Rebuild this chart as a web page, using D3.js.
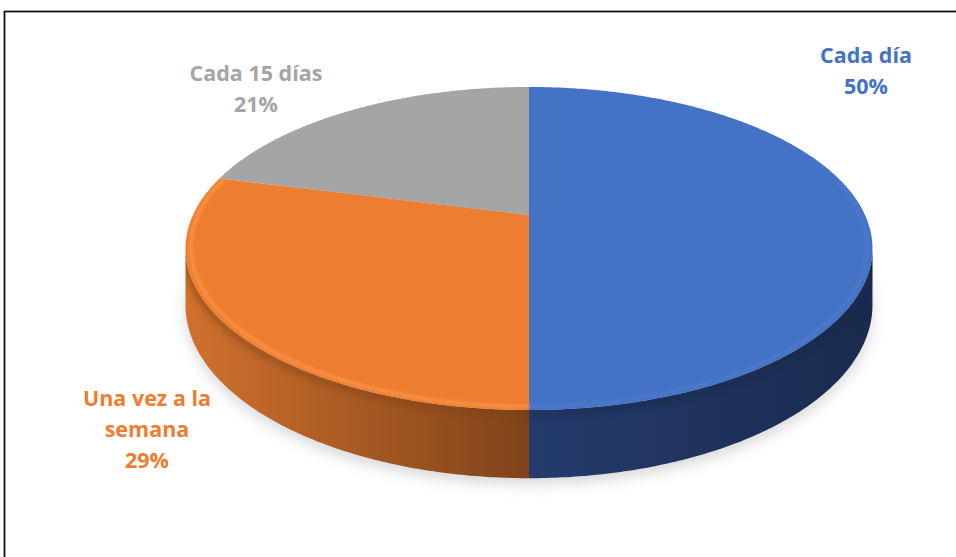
<!DOCTYPE html>
<html><head><meta charset="utf-8">
<script src="https://cdn.jsdelivr.net/npm/d3@7"></script>
<style>html,body{margin:0;padding:0;background:#fff;overflow:hidden}</style>
</head><body><svg id="c" width="956" height="557"></svg>
<script>
// ---- data ----
const categories = ["Cada día", "Una vez a la semana", "Cada 15 días"];
const values = [50, 29, 21];
const labelLines = [["Cada día"], ["Una vez a la", "semana"], ["Cada 15 días"]];

// ---- styles / layout ----
const topColors = ["#4472c4", "#ed7d31", "#a5a5a5"];
const sideLight = ["#243c6e", "#d1702d", "#8c8c8c"];
const sideDark = ["#1a2a4c", "#7f4319", "#6a6a6a"];
const rimLight = ["#4b79cc", "#fa9243", "#bcbcbc"];
const labelColors = ["#4472c4", "#ed7d31", "#a5a5a5"];
const labelPos = [[866, 63], [147, 406], [256, 81]];
const lineGap = 31;

const svg = d3.select("#c");
const defs = svg.append("defs");

// perspective projection of the pie disc
const cx = 529, cy = 215, A = 336, C = 154.6, K = 0.2074, D = 54;
function proj(a, z, r = 1) {
  const u = r * Math.sin(a), v = r * Math.cos(a), w = 1 + K * v;
  return [cx + A * u / w, cy - C * v / w + z * D / w];
}
const sil0 = Math.acos(-K), sil1 = 2 * Math.PI - sil0;
function arcPts(a0, a1, z, r = 1) {
  const n = Math.max(2, Math.ceil(Math.abs(a1 - a0) / 0.01));
  return d3.range(n + 1).map(i => proj(a0 + (a1 - a0) * i / n, z, r));
}
const line = d3.line();

const pie = d3.pie().sort(null).startAngle(0).endAngle(2 * Math.PI);
const arcs = pie(values);

// filters
const fs = defs.append("filter").attr("id", "shadow").attr("x", "-20%").attr("y", "-20%").attr("width", "140%").attr("height", "140%");
fs.append("feGaussianBlur").attr("stdDeviation", 7);
const fb = defs.append("filter").attr("id", "blur1").attr("x", "-10%").attr("y", "-10%").attr("width", "120%").attr("height", "120%");
fb.append("feGaussianBlur").attr("stdDeviation", 1.6);
const fb2 = defs.append("filter").attr("id", "blur2").attr("x", "-10%").attr("y", "-10%").attr("width", "120%").attr("height", "120%");
fb2.append("feGaussianBlur").attr("stdDeviation", 3);

// drop shadow
const shadowPts = arcPts(0, 2 * Math.PI, 1).map(p => [p[0], p[1] + 6]);
svg.append("path").attr("d", line(shadowPts) + "Z")
  .attr("fill", "#b8b8b8").attr("opacity", 0.55).attr("filter", "url(#shadow)");

// sides
const sideG = svg.append("g");
arcs.forEach((d, i) => {
  const a0 = Math.max(d.startAngle, sil0), a1 = Math.min(d.endAngle, sil1);
  if (a1 <= a0) return;
  const gid = "sg" + i;
  const p0 = proj(a0, 0), p1 = proj(a1, 0);
  const xs = [p0[0], p1[0]];
  const g = defs.append("linearGradient").attr("id", gid).attr("gradientUnits", "userSpaceOnUse")
    .attr("x1", d3.min(xs)).attr("x2", d3.max(xs)).attr("y1", 0).attr("y2", 0);
  g.append("stop").attr("offset", 0).attr("stop-color", sideLight[i]);
  g.append("stop").attr("offset", 1).attr("stop-color", sideDark[i]);
  const topP = arcPts(a0, a1, 0);
  const botP = arcPts(a1, a0, 1);
  sideG.append("path").attr("d", line(topP.concat(botP)) + "Z").attr("fill", "url(#" + gid + ")");
});

// clip for the side area (for rim shading)
const sideClip = defs.append("clipPath").attr("id", "sideClip");
sideClip.append("path").attr("d", line(arcPts(sil0, sil1, 0).concat(arcPts(sil1, sil0, 1))) + "Z");
arcs.forEach((d, i) => {
  const a0 = Math.max(d.startAngle, sil0), a1 = Math.min(d.endAngle, sil1);
  if (a1 <= a0) return;
  svg.append("g").attr("clip-path", "url(#sideClip)")
    .append("path").attr("d", line(arcPts(a0, a1, 0).map(p => [p[0], p[1] + 3])))
    .attr("fill", "none").attr("stroke", sideDark[i]).attr("stroke-width", 5).attr("opacity", 0.7)
    .attr("filter", "url(#blur2)");
});

// top faces
const topG = svg.append("g");
arcs.forEach((d, i) => {
  const pts = [proj(0, 0, 0)].concat(arcPts(d.startAngle, d.endAngle, 0));
  topG.append("path").attr("d", line(pts) + "Z").attr("fill", topColors[i]);
});

// bevel highlight along front rim
const topClip = defs.append("clipPath").attr("id", "topClip");
topClip.append("path").attr("d", line(arcPts(0, 2 * Math.PI, 0)) + "Z");
arcs.forEach((d, i) => {
  const a0 = Math.max(d.startAngle, Math.PI * 0.42), a1 = Math.min(d.endAngle, Math.PI * 1.58);
  if (a1 <= a0) return;
  svg.append("g").attr("clip-path", "url(#topClip)")
    .append("path").attr("d", line(arcPts(a0, a1, 0, 0.985)))
    .attr("fill", "none").attr("stroke", rimLight[i]).attr("stroke-width", 3.5)
    .attr("filter", "url(#blur1)");
});

// labels
arcs.forEach((d, i) => {
  const lines = labelLines[i].concat([Math.round(d.value / d3.sum(values) * 100) + "%"]);
  const t = svg.append("text").attr("text-anchor", "middle")
    .attr("font-family", "'Open Sans', Lato, sans-serif").attr("font-weight", "bold")
    .attr("font-size", 21.5).attr("fill", labelColors[i]);
  lines.forEach((s, j) => {
    t.append("tspan").attr("x", labelPos[i][0]).attr("y", labelPos[i][1] + j * lineGap).text(s);
  });
});

// chart border
svg.append("rect").attr("x", 4.5).attr("y", 11.5).attr("width", 1000).attr("height", 1000)
  .attr("fill", "none").attr("stroke", "#111").attr("stroke-width", 1.8);
</script>
</body></html>
